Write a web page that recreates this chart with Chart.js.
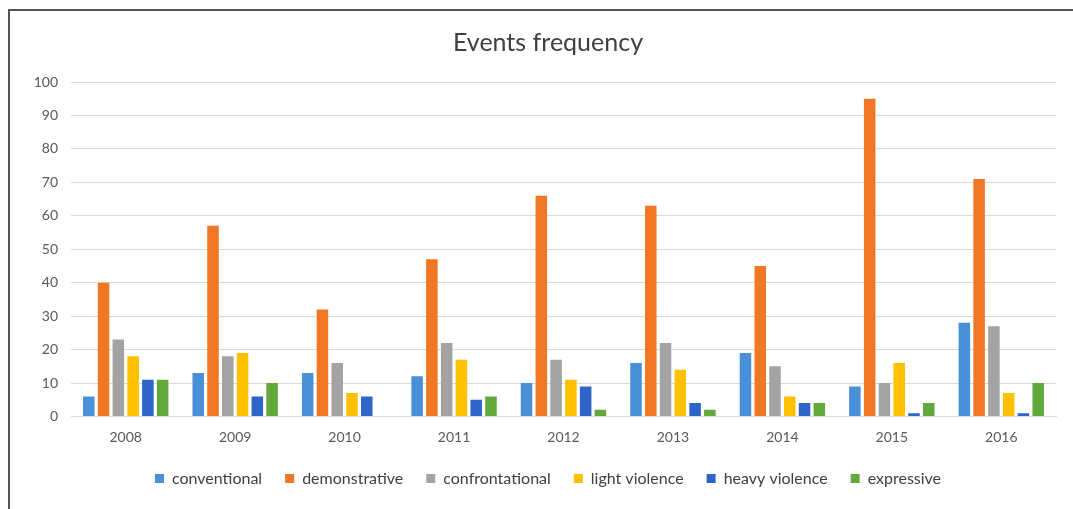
<!DOCTYPE html>
<html>
<head>
<meta charset="utf-8">
<script src="https://cdn.jsdelivr.net/npm/chart.js@4/dist/chart.umd.min.js"></script>
<style>
html,body{margin:0;padding:0;background:#fff;}
#wrap{width:1073px;height:509px;position:relative;}
</style>
</head>
<body>
<div id="wrap"><canvas id="c" width="1073" height="509"></canvas></div>
<script>
const years = ['2008','2009','2010','2011','2012','2013','2014','2015','2016'];
const conventional    = [6, 13, 13, 12, 10, 16, 19, 9, 28];
const demonstrative   = [40, 57, 32, 47, 66, 63, 45, 95, 71];
const confrontational = [23, 18, 16, 22, 17, 22, 15, 10, 27];
const lightViolence   = [18, 19, 7, 17, 11, 14, 6, 16, 7];
const heavyViolence   = [11, 6, 6, 5, 9, 4, 4, 1, 1];
const expressive      = [11, 10, 0, 6, 2, 2, 4, 4, 10];
const yTicks = [0,10,20,30,40,50,60,70,80,90,100];

const FONT = 'Lato, "Open Sans", sans-serif';

const borderPlugin = {
  id: 'frame',
  beforeDraw(chart) {
    const ctx = chart.ctx;
    ctx.save();
    ctx.fillStyle = '#fff';
    ctx.fillRect(0,0,chart.width,chart.height);
    ctx.strokeStyle = '#555';
    ctx.lineWidth = 2;
    ctx.beginPath();
    ctx.moveTo(9, chart.height);
    ctx.lineTo(9, 10);
    ctx.lineTo(chart.width, 10);
    ctx.stroke();
    ctx.restore();
  }
};

function ds(label, data, color) {
  return { label, data, backgroundColor: color, borderWidth: 0,
    barPercentage: 0.78, categoryPercentage: 0.81 };
}

new Chart(document.getElementById('c'), {
  type: 'bar',
  data: {
    labels: years,
    datasets: [
      ds('conventional', conventional, '#4A90D9'),
      ds('demonstrative', demonstrative, '#F07723'),
      ds('confrontational', confrontational, '#A3A3A3'),
      ds('light violence', lightViolence, '#FFC000'),
      ds('heavy violence', heavyViolence, '#2F64C8'),
      ds('expressive', expressive, '#62A83A')
    ]
  },
  options: {
    responsive: false,
    animation: false,
    devicePixelRatio: 1,
    layout: { padding: { left: 30, right: 7, top: 0, bottom: 12.5 } },
    plugins: {
      title: { display: true, text: 'Events frequency', color: '#404040',
        font: { family: FONT, size: 25, weight: 'normal' }, padding: { top: 28, bottom: 24 } },
      legend: { position: 'bottom',
        labels: { boxWidth: 9, boxHeight: 9, padding: 23, color: '#404040',
          font: { family: FONT, size: 16 } } },
      tooltip: { enabled: false }
    },
    scales: {
      x: {
        afterFit(axis) { axis.height = 31; },
        grid: { display: false, drawTicks: false },
        border: { display: true, color: '#D9D9D9', width: 1 },
        ticks: { color: '#595959', font: { family: FONT, size: 14 }, padding: 13 }
      },
      y: {
        min: 0, max: 100,
        afterBuildTicks(axis) { axis.ticks = yTicks.map(v => ({ value: v })); },
        afterFit(axis) { axis.width = 41; },
        grid: { color: '#D9D9D9', drawTicks: false },
        border: { display: false },
        ticks: { color: '#595959', font: { family: FONT, size: 14 }, padding: 13 }
      },
      yRight: {
        type: 'linear', position: 'right', display: true,
        afterFit(axis) { axis.width = 10; },
        grid: { display: false, drawTicks: false },
        border: { display: false },
        ticks: { display: false }
      }
    }
  },
  plugins: [borderPlugin]
});
</script>
</body>
</html>
